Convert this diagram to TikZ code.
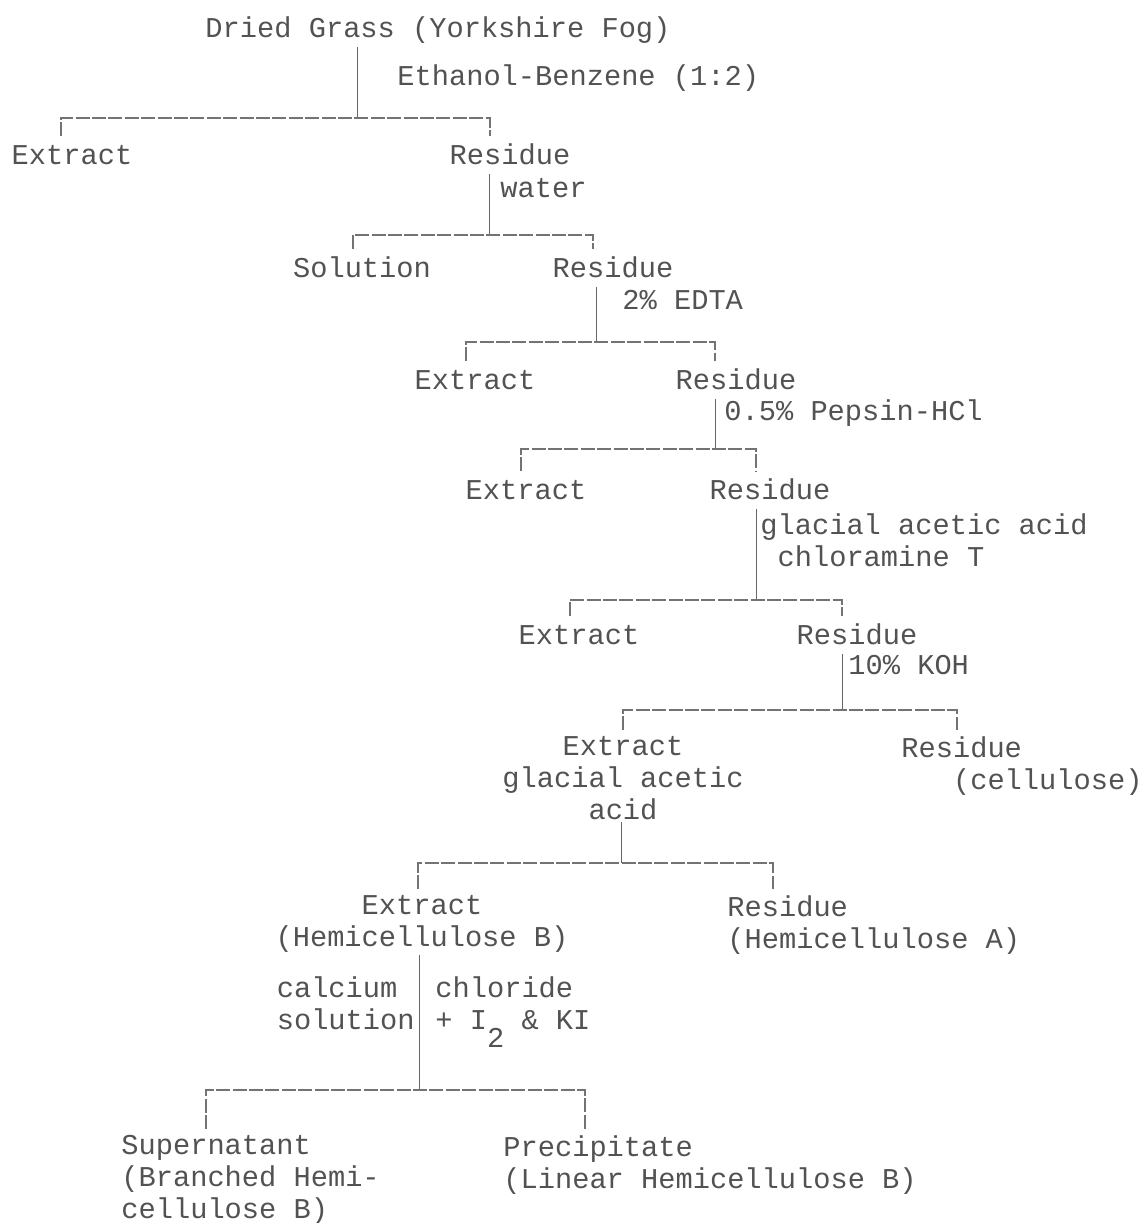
\documentclass[tikz,border=0pt]{standalone}
\usepackage{fontspec}
\newfontfamily\typer{Liberation Mono}
\begin{document}
\begin{tikzpicture}[x=0.5pt, y=-0.5pt,
    stage/.style={font=\typer\fontsize{14.35pt}{16pt}\selectfont, text=black!68, inner sep=1pt, text height=10.8pt, text depth=3.6pt},
    stagebox/.style={font=\typer\fontsize{14.35pt}{16pt}\selectfont, text=black!68, inner sep=1pt},
    stem/.style={draw=black!60, line width=0.5pt},
    branch/.style={draw=black!55, line width=0.6pt, dash pattern=on 7pt off 1.2pt, shorten <=2pt, shorten >=2pt}]
    \useasboundingbox (0,0) rectangle (1143,1223);
    % stages
    \node [stage] (dried) at (438, 30){Dried Grass (Yorkshire Fog)};
    \node [stage, anchor=west] (lab1) at (395, 78){Ethanol-Benzene (1:2)};
    \node [stage] (ext1) at (72, 157){Extract};
    \node [stage] (res1) at (510, 157){Residue};
    \node [stage, anchor=west] (lab2) at (498, 190){water};
    \node [stage] (sol2) at (362, 270){Solution};
    \node [stage] (res2) at (613, 270){Residue};
    \node [stage, anchor=west] (lab3) at (620, 302){2\% EDTA};
    \node [stage] (ext3) at (475, 382){Extract};
    \node [stage] (res3) at (736, 382){Residue};
    \node [stage, anchor=west] (lab4) at (722, 413){0.5\% Pepsin-HCl};
    \node [stage] (ext4) at (526, 492){Extract};
    \node [stage] (res4) at (770, 492){Residue};
    \node [stagebox, anchor=north west, align=left] (lab5) at (758, 511){glacial acetic acid\\\phantom{g}chloramine T};
    \node [stage] (ext5) at (579, 637){Extract};
    \node [stage] (res5) at (857, 637){Residue};
    \node [stage, anchor=west] (lab6) at (846, 667){10\% KOH};
    \node [stagebox, anchor=north, align=center] (ext6) at (623, 734){Extract\\glacial acetic\\acid};
    \node [stagebox, anchor=north west, align=left] (res6) at (899, 734){Residue\\\phantom{Res}(cellulose)};
    \node [stagebox, anchor=north, align=center] (ext7) at (422, 893){Extract\\(Hemicellulose B)};
    \node [stagebox, anchor=north west, align=left] (res7) at (725, 893){Residue\\(Hemicellulose A)};
    \node [stagebox, anchor=north east, align=left] (lab7l) at (417, 974){calcium\\solution};
    \node [stagebox, anchor=north west, align=left] (lab7r) at (433, 974){chloride\\+ I\raisebox{-0.65em}{2} \& KI};
    \node [stagebox, anchor=north west, align=left] (sup8) at (119, 1133){Supernatant\\(Branched Hemi-\\cellulose B)};
    \node [stagebox, anchor=north west, align=left] (pre8) at (501, 1133){Precipitate\\(Linear Hemicellulose B)};
    % ethanol-benzene
    \coordinate (j1) at (357, 118);
    \coordinate (b1l) at (61, 118);
    \coordinate (b1r) at (490, 118);
    \draw [stem] (dried.south -| j1) -- (j1);
    \draw [branch] (ext1.north -| b1l) -- (b1l) -- (b1r) -- (res1.north -| b1r);
    % water
    \coordinate (j2) at (489, 235);
    \coordinate (b2l) at (353, 235);
    \coordinate (b2r) at (593, 235);
    \draw [stem] (res1.south -| j2) -- (j2);
    \draw [branch] (sol2.north -| b2l) -- (b2l) -- (b2r) -- (res2.north -| b2r);
    % EDTA
    \coordinate (j3) at (596, 342);
    \coordinate (b3l) at (466, 342);
    \coordinate (b3r) at (715, 342);
    \draw [stem] (res2.south -| j3) -- (j3);
    \draw [branch] (ext3.north -| b3l) -- (b3l) -- (b3r) -- (res3.north -| b3r);
    % pepsin
    \coordinate (j4) at (715, 449);
    \coordinate (b4l) at (521, 449);
    \coordinate (b4r) at (756, 449);
    \draw [stem] (res3.south -| j4) -- (j4);
    \draw [branch] (ext4.north -| b4l) -- (b4l) -- (b4r) -- (res4.north -| b4r);
    % chloramine
    \coordinate (j5) at (756, 600);
    \coordinate (b5l) at (570, 600);
    \coordinate (b5r) at (842, 600);
    \draw [stem] (res4.south -| j5) -- (j5);
    \draw [branch] (ext5.north -| b5l) -- (b5l) -- (b5r) -- (res5.north -| b5r);
    % KOH
    \coordinate (j6) at (842, 710);
    \coordinate (b6l) at (623, 710);
    \coordinate (b6r) at (957, 710);
    \draw [stem] (res5.south -| j6) -- (j6);
    \draw [branch] (ext6.north -| b6l) -- (b6l) -- (b6r) -- (res6.north -| b6r);
    % acetic acid
    \coordinate (j7) at (621, 863);
    \coordinate (b7l) at (418, 863);
    \coordinate (b7r) at (773, 863);
    \draw [stem] (ext6.south -| j7) -- (j7);
    \draw [branch] (ext7.north -| b7l) -- (b7l) -- (b7r) -- (res7.north -| b7r);
    % calcium chloride
    \coordinate (j8) at (419, 1090);
    \coordinate (b8l) at (206, 1090);
    \coordinate (b8r) at (585, 1090);
    \draw [stem] (ext7.south -| j8) -- (j8);
    \draw [branch] (sup8.north -| b8l) -- (b8l) -- (b8r) -- (pre8.north -| b8r);
\end{tikzpicture}
\end{document}
